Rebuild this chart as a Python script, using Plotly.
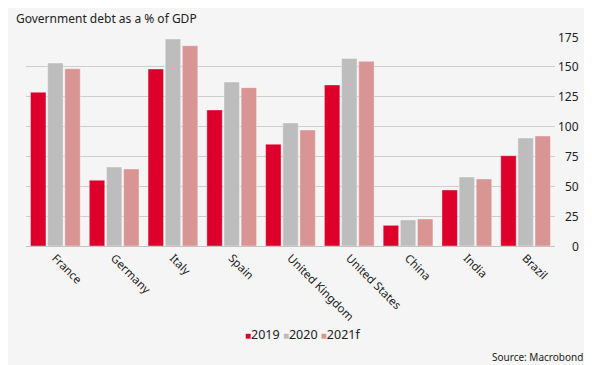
import plotly.graph_objects as go

countries = ["France", "Germany", "Italy", "Spain", "United Kingdom",
             "United States", "China", "India", "Brazil"]
debt_2019 = [128.7, 55.0, 148.2, 113.9, 85.2, 134.8, 17.3, 46.9, 75.6]
debt_2020 = [153.2, 66.1, 173.3, 137.3, 103.0, 157.1, 21.8, 57.8, 90.4]
debt_2021 = [148.5, 64.5, 167.7, 132.6, 97.1, 154.6, 22.6, 56.1, 92.1]
series_names = ["2019", "2020", "2021f"]
colors = ["#dc002a", "#bdbdbd", "#d99594"]
y_ticks = [0, 25, 50, 75, 100, 125, 150, 175]

# page body has an 8px margin; figure drawn from (8,8)
OFF = 8
W, H = 584, 357
L, R, T, B = 18, 37, 29, 119
pw, ph = W - L - R, H - T - B

def px_x(x):
    return (x - OFF - L) / pw

def px_y(y):
    return 1 - (y - OFF - T) / ph

FONT = "Noto Sans"
fig = go.Figure()
for name, vals, c in zip(series_names, [debt_2019, debt_2020, debt_2021], colors):
    fig.add_trace(go.Bar(x=countries, y=vals, name=name, marker_color=c,
                         marker_line_width=0.6, marker_line_color="rgba(255,255,255,0.6)"))

fig.update_layout(
    width=W, height=H,
    margin=dict(l=L, r=R, t=T, b=B),
    paper_bgcolor="#f5f5f5", plot_bgcolor="#f5f5f5",
    barmode="group", bargap=0.125, bargroupgap=0.1,
    showlegend=False,
    font=dict(family=FONT, size=11, color="#222222"),
    xaxis=dict(tickangle=45, showline=True, linecolor="#c4c4c4", linewidth=1,
               ticks="", showgrid=False, tickfont=dict(size=11.5, color="#222222")),
    yaxis=dict(side="right", range=[0, 175], tickvals=y_ticks, showticklabels=False,
               showgrid=True, gridcolor="#cdcdcd", gridwidth=1, zeroline=False,
               ticks=""),
)

ann = []
for v in y_ticks:
    ann.append(dict(x=px_x(581), xref="paper", y=v, yref="y", text=str(v),
                    showarrow=False, xanchor="right", yanchor="middle",
                    font=dict(size=12, color="#222222")))
ann.append(dict(x=px_x(14), xref="paper", y=px_y(18), yref="paper",
                text="Government debt as a % of GDP", showarrow=False,
                xanchor="left", yanchor="middle", font=dict(size=12, color="#222222")))
legend_txt = "".join(
    f'<span style="color:{c};font-size:10px">■</span>{n} '
    for n, c in zip(series_names, colors)).strip()
ann.append(dict(x=px_x(302), xref="paper", y=px_y(334), yref="paper",
                text=legend_txt, showarrow=False, xanchor="center", yanchor="middle",
                font=dict(size=12.5, color="#222222")))
ann.append(dict(x=px_x(585), xref="paper", y=px_y(357), yref="paper",
                text="Source: Macrobond", showarrow=False, xanchor="right",
                yanchor="middle", font=dict(size=10, color="#222222")))
fig.update_layout(annotations=ann)

fig.write_html("out.html")
